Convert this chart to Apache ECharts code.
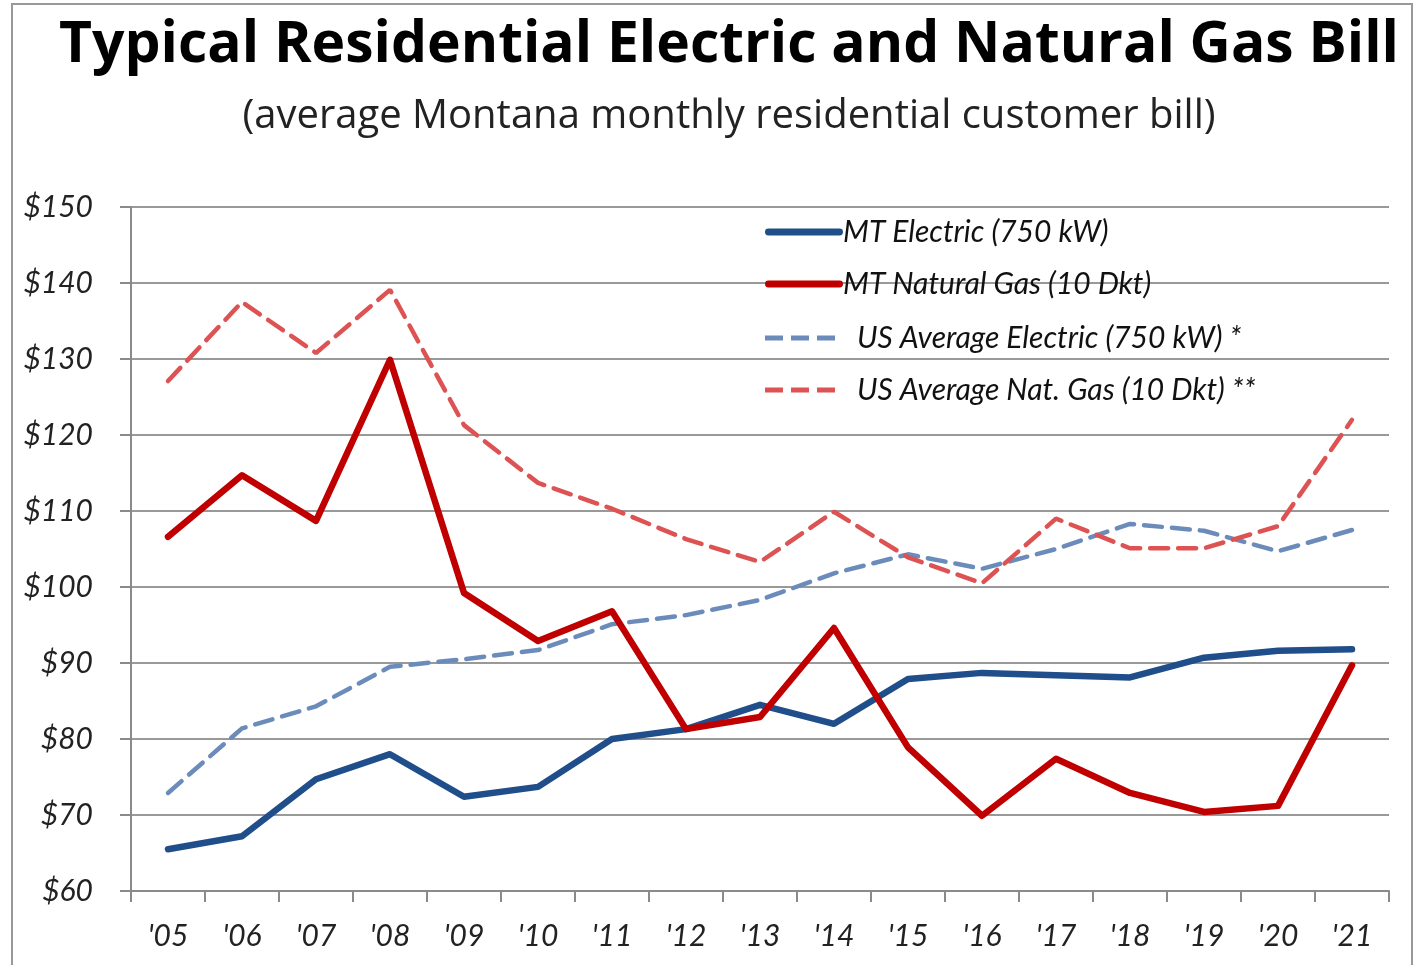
<!DOCTYPE html>
<html>
<head>
<meta charset="utf-8">
<script src="https://cdn.jsdelivr.net/npm/echarts@6/dist/echarts.min.js"></script>
<style>
  html, body { margin: 0; padding: 0; background: #fff; }
  #main { width: 1417px; height: 965px; }
</style>
</head>
<body>
<div id="main"></div>
<script>
// years on the x axis
var years = ["'05","'06","'07","'08","'09","'10","'11","'12","'13","'14","'15","'16","'17","'18","'19","'20","'21"];
// monthly bills, dollars
var mtElectric = [65.5, 67.2, 74.7, 78.0, 72.4, 73.7, 80.0, 81.3, 84.5, 82.0, 87.9, 88.7, 88.4, 88.1, 90.7, 91.6, 91.8];
var mtGas      = [106.6, 114.7, 108.7, 129.9, 99.2, 92.9, 96.8, 81.3, 82.9, 94.6, 78.9, 69.9, 77.4, 72.9, 70.4, 71.2, 89.7];
var usElectric = [72.9, 81.4, 84.3, 89.5, 90.5, 91.7, 95.1, 96.3, 98.3, 101.8, 104.3, 102.4, 105.0, 108.3, 107.4, 104.7, 107.5];
var usGas      = [127.1, 137.5, 130.8, 139.1, 121.3, 113.7, 110.3, 106.3, 103.3, 109.9, 103.9, 100.5, 109.0, 105.1, 105.1, 108.0, 122.0];

var chart = echarts.init(document.getElementById('main'));

var fnt = 'Lato, "Open Sans", sans-serif';
// legend icons: a thick bar and three short dashes
var solidIcon = 'path://M3,0h72a3,3 0 0 1 0,7h-72a3,3 0 0 1 0,-7z';
var dashIcon = 'path://M0,0h18v5h-18z M26,0h18v5h-18z M52,0h18v5h-18z';

var option = {
  backgroundColor: '#fff',
  animation: false,
  title: [
    {
      text: 'Typical Residential Electric and Natural Gas Bill',
      left: 724, top: 12, textAlign: 'center',
      textStyle: { fontFamily: '"Open Sans", sans-serif', fontWeight: 'bold', fontSize: 57, color: '#000' }
    },
    {
      text: '(average Montana monthly residential customer bill)',
      left: 724, top: 92, textAlign: 'center',
      textStyle: { fontFamily: '"Open Sans", sans-serif', fontWeight: 'normal', fontSize: 40, color: '#222' }
    }
  ],
  graphic: [
    {
      type: 'rect', silent: true,
      shape: { x: 12, y: 4, width: 1400, height: 1000 },
      style: { fill: 'none', stroke: '#999', lineWidth: 2 }
    }
  ],
  legend: [
    {
      orient: 'vertical', left: 760, top: 212, itemGap: 22,
      itemWidth: 78, itemHeight: 7,
      data: [
        { name: 'MT Electric (750 kW)', icon: solidIcon },
        { name: 'MT Natural Gas (10 Dkt)', icon: solidIcon }
      ],
      textStyle: { fontFamily: fnt, fontStyle: 'italic', fontSize: 30, color: '#111', padding: [0, 0, 0, -5] }
    },
    {
      orient: 'vertical', left: 760, top: 318, itemGap: 22,
      itemWidth: 72, itemHeight: 5,
      data: [
        { name: 'US Average Electric (750 kW) *', icon: dashIcon },
        { name: 'US Average Nat. Gas (10 Dkt) **', icon: dashIcon }
      ],
      textStyle: { fontFamily: fnt, fontStyle: 'italic', fontSize: 30, color: '#111', padding: [0, 0, 0, 16] }
    }
  ],
  grid: { left: 131, right: 28, top: 207, bottom: 74 },
  xAxis: {
    type: 'category',
    data: years,
    boundaryGap: true,
    axisLine: { show: true, lineStyle: { color: '#8a8a8a', width: 2 } },
    axisTick: { show: true, length: 11, lineStyle: { color: '#8a8a8a', width: 2 } },
    axisLabel: { fontFamily: fnt, fontStyle: 'italic', fontSize: 30, color: '#222', margin: 30 }
  },
  yAxis: {
    type: 'value',
    min: 60, max: 150, interval: 10,
    axisLine: { show: true, lineStyle: { color: '#8a8a8a', width: 2 } },
    axisTick: { show: true, length: 11, lineStyle: { color: '#8a8a8a', width: 2 } },
    splitLine: { show: true, lineStyle: { color: '#999', width: 2 } },
    axisLabel: {
      fontFamily: fnt, fontStyle: 'italic', fontSize: 30, color: '#222', margin: 38,
      formatter: function (v) { return '$' + v; }
    }
  },
  series: [
    {
      name: 'US Average Electric (750 kW) *', type: 'line', data: usElectric,
      symbol: 'none', itemStyle: { color: '#6b8cbb' },
      lineStyle: { color: '#6b8cbb', width: 4.5, type: [18, 10], cap: 'round' }
    },
    {
      name: 'US Average Nat. Gas (10 Dkt) **', type: 'line', data: usGas,
      symbol: 'none', itemStyle: { color: '#dd5252' },
      lineStyle: { color: '#dd5252', width: 4.5, type: [18, 10], cap: 'round' }
    },
    {
      name: 'MT Electric (750 kW)', type: 'line', data: mtElectric,
      symbol: 'none', itemStyle: { color: '#1f4e8a' },
      lineStyle: { color: '#1f4e8a', width: 6.5, cap: 'round', join: 'round' }
    },
    {
      name: 'MT Natural Gas (10 Dkt)', type: 'line', data: mtGas,
      symbol: 'none', itemStyle: { color: '#c00000' },
      lineStyle: { color: '#c00000', width: 6.5, cap: 'round', join: 'round' }
    }
  ]
};

chart.setOption(option);
</script>
</body>
</html>
